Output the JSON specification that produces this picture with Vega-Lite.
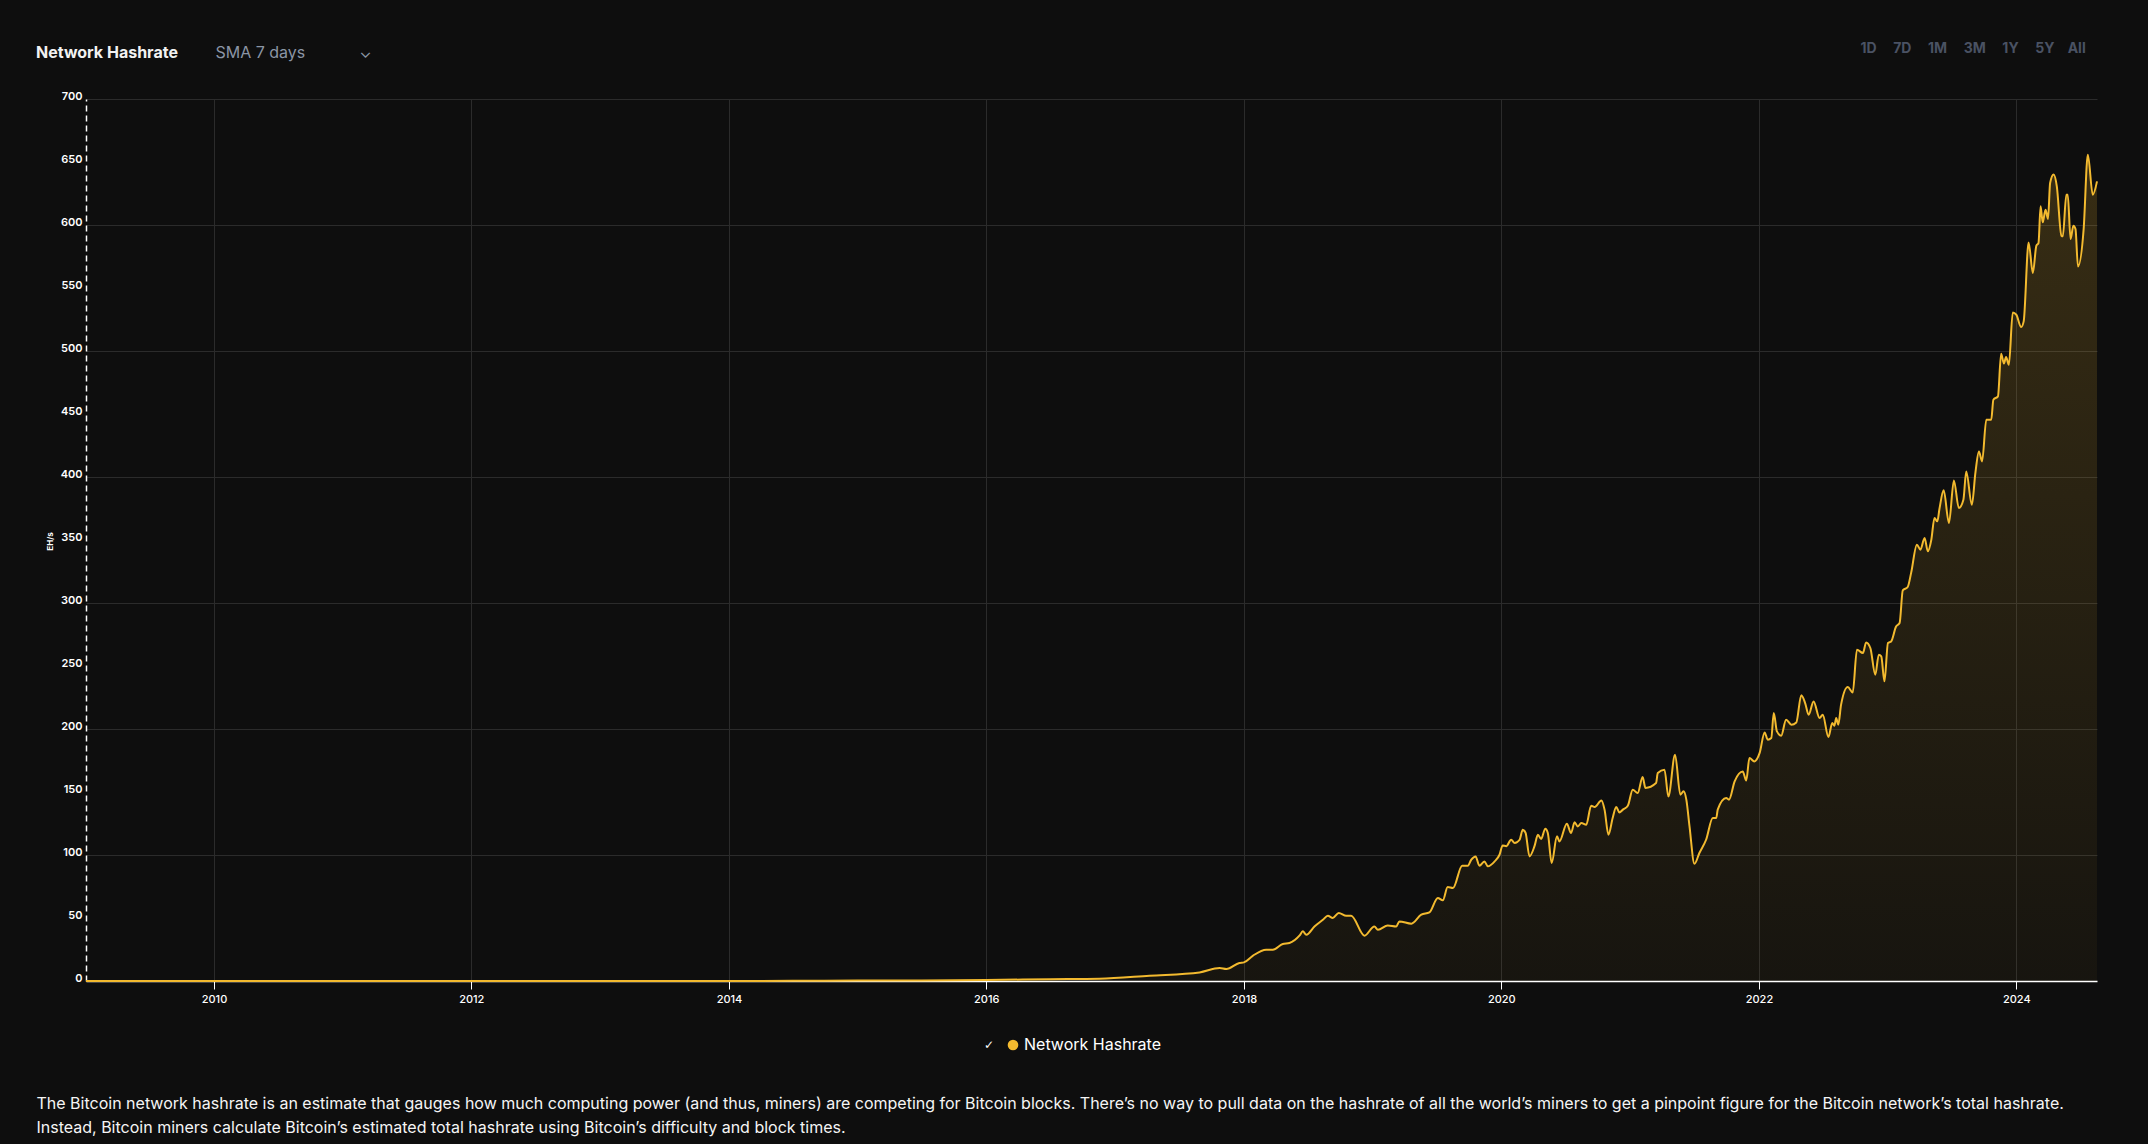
{
  "$schema": "https://vega.github.io/schema/vega-lite/v6.json",
  "width": 2011,
  "height": 882,
  "autosize": {"type": "none"},
  "padding": {"left": 86, "top": 99, "right": 51, "bottom": 163},
  "background": "#0e0e0e",
  "config": {"view": {"stroke": null}, "font": "Inter"},
  "title": {"text": "Network Hashrate", "anchor": "start", "frame": "group", "dx": -50, "dy": 20, "offset": 0, "fontSize": 16, "fontWeight": 700, "color": "#f2f2f2", "font": "Inter"},
  "data": {"values": [
    {"date": "2009-01-03", "hashrate": 0},
    {"date": "2011-06-01", "hashrate": 0.00001},
    {"date": "2013-01-01", "hashrate": 0.00002},
    {"date": "2013-07-01", "hashrate": 0.0003},
    {"date": "2014-01-01", "hashrate": 0.01},
    {"date": "2014-07-01", "hashrate": 0.12},
    {"date": "2015-01-01", "hashrate": 0.3},
    {"date": "2015-07-01", "hashrate": 0.4},
    {"date": "2016-01-01", "hashrate": 0.8},
    {"date": "2016-07-01", "hashrate": 1.4},
    {"date": "2016-11-17", "hashrate": 1.8},
    {"date": "2017-04-08", "hashrate": 4.2},
    {"date": "2017-08-28", "hashrate": 6.8},
    {"date": "2017-10-24", "hashrate": 10.3},
    {"date": "2017-11-12", "hashrate": 9.5},
    {"date": "2017-12-19", "hashrate": 14.3},
    {"date": "2018-01-01", "hashrate": 14.8},
    {"date": "2018-01-26", "hashrate": 20},
    {"date": "2018-03-05", "hashrate": 24.8},
    {"date": "2018-03-24", "hashrate": 24.8},
    {"date": "2018-04-21", "hashrate": 29.4},
    {"date": "2018-05-10", "hashrate": 30.2},
    {"date": "2018-06-08", "hashrate": 36.2},
    {"date": "2018-06-17", "hashrate": 39.4},
    {"date": "2018-06-27", "hashrate": 36.7},
    {"date": "2018-07-20", "hashrate": 43.3},
    {"date": "2018-08-13", "hashrate": 48.6},
    {"date": "2018-08-27", "hashrate": 51.8},
    {"date": "2018-09-10", "hashrate": 50},
    {"date": "2018-09-27", "hashrate": 54},
    {"date": "2018-10-18", "hashrate": 51.8},
    {"date": "2018-11-01", "hashrate": 51.8},
    {"date": "2018-12-09", "hashrate": 36},
    {"date": "2019-01-06", "hashrate": 43.3},
    {"date": "2019-01-16", "hashrate": 40.7},
    {"date": "2019-02-13", "hashrate": 44.1},
    {"date": "2019-03-09", "hashrate": 43.3},
    {"date": "2019-03-18", "hashrate": 47.3},
    {"date": "2019-04-21", "hashrate": 45.5},
    {"date": "2019-05-19", "hashrate": 52.6},
    {"date": "2019-06-11", "hashrate": 54.4},
    {"date": "2019-07-05", "hashrate": 65.9},
    {"date": "2019-07-19", "hashrate": 64},
    {"date": "2019-08-02", "hashrate": 74.6},
    {"date": "2019-08-17", "hashrate": 73.8},
    {"date": "2019-09-12", "hashrate": 91.5},
    {"date": "2019-09-28", "hashrate": 91.5},
    {"date": "2019-10-08", "hashrate": 96.3},
    {"date": "2019-10-20", "hashrate": 98.9},
    {"date": "2019-10-31", "hashrate": 91.5},
    {"date": "2019-11-14", "hashrate": 94.9},
    {"date": "2019-11-24", "hashrate": 91},
    {"date": "2019-12-13", "hashrate": 94.9},
    {"date": "2019-12-27", "hashrate": 100.2},
    {"date": "2020-01-05", "hashrate": 107.6},
    {"date": "2020-01-15", "hashrate": 107},
    {"date": "2020-01-29", "hashrate": 112.1},
    {"date": "2020-02-08", "hashrate": 109.5},
    {"date": "2020-02-22", "hashrate": 112.1},
    {"date": "2020-03-02", "hashrate": 120.1},
    {"date": "2020-03-10", "hashrate": 117.5},
    {"date": "2020-03-21", "hashrate": 98.9},
    {"date": "2020-04-04", "hashrate": 106.8},
    {"date": "2020-04-14", "hashrate": 116.1},
    {"date": "2020-04-23", "hashrate": 112.7},
    {"date": "2020-05-05", "hashrate": 120.9},
    {"date": "2020-05-12", "hashrate": 117.5},
    {"date": "2020-05-23", "hashrate": 93.7},
    {"date": "2020-06-07", "hashrate": 114.8},
    {"date": "2020-06-14", "hashrate": 110.8},
    {"date": "2020-07-05", "hashrate": 124.8},
    {"date": "2020-07-17", "hashrate": 117.5},
    {"date": "2020-07-27", "hashrate": 125.9},
    {"date": "2020-08-05", "hashrate": 122.7},
    {"date": "2020-08-15", "hashrate": 125.4},
    {"date": "2020-08-29", "hashrate": 124},
    {"date": "2020-09-12", "hashrate": 139.1},
    {"date": "2020-09-22", "hashrate": 138.1},
    {"date": "2020-10-11", "hashrate": 143.3},
    {"date": "2020-10-20", "hashrate": 136},
    {"date": "2020-10-31", "hashrate": 116.1},
    {"date": "2020-11-12", "hashrate": 129.4},
    {"date": "2020-11-22", "hashrate": 138.1},
    {"date": "2020-12-01", "hashrate": 133.8},
    {"date": "2020-12-11", "hashrate": 136},
    {"date": "2020-12-25", "hashrate": 139.1},
    {"date": "2021-01-08", "hashrate": 151.8},
    {"date": "2021-01-22", "hashrate": 149.2},
    {"date": "2021-02-05", "hashrate": 161.9},
    {"date": "2021-02-13", "hashrate": 153.2},
    {"date": "2021-03-15", "hashrate": 157.1},
    {"date": "2021-03-20", "hashrate": 165.1},
    {"date": "2021-04-08", "hashrate": 167.7},
    {"date": "2021-04-19", "hashrate": 146.5},
    {"date": "2021-05-08", "hashrate": 179.6},
    {"date": "2021-05-23", "hashrate": 147.9},
    {"date": "2021-06-01", "hashrate": 150.5},
    {"date": "2021-06-09", "hashrate": 143.9},
    {"date": "2021-06-18", "hashrate": 122.7},
    {"date": "2021-07-02", "hashrate": 93.1},
    {"date": "2021-07-16", "hashrate": 101.6},
    {"date": "2021-08-04", "hashrate": 112.1},
    {"date": "2021-08-23", "hashrate": 129.4},
    {"date": "2021-09-02", "hashrate": 129.4},
    {"date": "2021-09-06", "hashrate": 136},
    {"date": "2021-09-30", "hashrate": 145.2},
    {"date": "2021-10-08", "hashrate": 143.9},
    {"date": "2021-10-24", "hashrate": 158.4},
    {"date": "2021-11-16", "hashrate": 166.3},
    {"date": "2021-11-26", "hashrate": 159.2},
    {"date": "2021-12-05", "hashrate": 177},
    {"date": "2021-12-19", "hashrate": 174.3},
    {"date": "2022-01-03", "hashrate": 181},
    {"date": "2022-01-17", "hashrate": 197.3},
    {"date": "2022-01-26", "hashrate": 191.5},
    {"date": "2022-02-05", "hashrate": 192.9},
    {"date": "2022-02-12", "hashrate": 212.7},
    {"date": "2022-02-21", "hashrate": 198.1},
    {"date": "2022-03-05", "hashrate": 194.7},
    {"date": "2022-03-19", "hashrate": 207.4},
    {"date": "2022-04-03", "hashrate": 203.4},
    {"date": "2022-04-17", "hashrate": 205.2},
    {"date": "2022-05-01", "hashrate": 226.7},
    {"date": "2022-05-12", "hashrate": 220.6},
    {"date": "2022-05-22", "hashrate": 211.3},
    {"date": "2022-06-05", "hashrate": 221.9},
    {"date": "2022-06-22", "hashrate": 208.7},
    {"date": "2022-07-01", "hashrate": 211.3},
    {"date": "2022-07-17", "hashrate": 193.7},
    {"date": "2022-07-28", "hashrate": 204.8},
    {"date": "2022-08-03", "hashrate": 202.6},
    {"date": "2022-08-08", "hashrate": 208.7},
    {"date": "2022-08-14", "hashrate": 203.4},
    {"date": "2022-08-22", "hashrate": 219.3},
    {"date": "2022-09-10", "hashrate": 233.3},
    {"date": "2022-09-24", "hashrate": 229},
    {"date": "2022-10-06", "hashrate": 262.9},
    {"date": "2022-10-23", "hashrate": 260.3},
    {"date": "2022-11-01", "hashrate": 268.7},
    {"date": "2022-11-13", "hashrate": 264.3},
    {"date": "2022-11-27", "hashrate": 243.1},
    {"date": "2022-12-07", "hashrate": 259},
    {"date": "2022-12-14", "hashrate": 257.6},
    {"date": "2022-12-23", "hashrate": 237.8},
    {"date": "2023-01-02", "hashrate": 268.3},
    {"date": "2023-01-11", "hashrate": 269.5},
    {"date": "2023-01-25", "hashrate": 281.4},
    {"date": "2023-02-04", "hashrate": 284.1},
    {"date": "2023-02-13", "hashrate": 310},
    {"date": "2023-02-27", "hashrate": 312.7},
    {"date": "2023-03-09", "hashrate": 324.3},
    {"date": "2023-03-25", "hashrate": 346.3},
    {"date": "2023-04-04", "hashrate": 342.3},
    {"date": "2023-04-16", "hashrate": 351.6},
    {"date": "2023-04-25", "hashrate": 341},
    {"date": "2023-05-05", "hashrate": 350.2},
    {"date": "2023-05-14", "hashrate": 367.5},
    {"date": "2023-05-22", "hashrate": 364.8},
    {"date": "2023-05-28", "hashrate": 374.6},
    {"date": "2023-06-09", "hashrate": 389.4},
    {"date": "2023-06-24", "hashrate": 363.5},
    {"date": "2023-07-08", "hashrate": 397.3},
    {"date": "2023-07-22", "hashrate": 375.4},
    {"date": "2023-08-04", "hashrate": 382},
    {"date": "2023-08-12", "hashrate": 404.4},
    {"date": "2023-08-28", "hashrate": 378},
    {"date": "2023-09-07", "hashrate": 403.2},
    {"date": "2023-09-17", "hashrate": 420.3},
    {"date": "2023-09-26", "hashrate": 412.4},
    {"date": "2023-10-08", "hashrate": 445.5},
    {"date": "2023-10-22", "hashrate": 445.5},
    {"date": "2023-10-28", "hashrate": 461.3},
    {"date": "2023-11-10", "hashrate": 464},
    {"date": "2023-11-19", "hashrate": 497.9},
    {"date": "2023-11-27", "hashrate": 490},
    {"date": "2023-12-03", "hashrate": 495.2},
    {"date": "2023-12-11", "hashrate": 489.1},
    {"date": "2023-12-22", "hashrate": 530.6},
    {"date": "2024-01-01", "hashrate": 528.8},
    {"date": "2024-01-15", "hashrate": 519},
    {"date": "2024-01-22", "hashrate": 523.5},
    {"date": "2024-02-05", "hashrate": 586.2},
    {"date": "2024-02-17", "hashrate": 561.9},
    {"date": "2024-02-27", "hashrate": 583.6},
    {"date": "2024-03-04", "hashrate": 585.7},
    {"date": "2024-03-10", "hashrate": 614.8},
    {"date": "2024-03-16", "hashrate": 602.1},
    {"date": "2024-03-24", "hashrate": 612.1},
    {"date": "2024-03-31", "hashrate": 604.8},
    {"date": "2024-04-06", "hashrate": 633.3},
    {"date": "2024-04-16", "hashrate": 640},
    {"date": "2024-04-25", "hashrate": 630.6},
    {"date": "2024-05-08", "hashrate": 591.5},
    {"date": "2024-05-12", "hashrate": 591},
    {"date": "2024-05-22", "hashrate": 624},
    {"date": "2024-05-26", "hashrate": 624},
    {"date": "2024-06-03", "hashrate": 588.9},
    {"date": "2024-06-11", "hashrate": 599.4},
    {"date": "2024-06-17", "hashrate": 596.8},
    {"date": "2024-06-24", "hashrate": 567.1},
    {"date": "2024-07-10", "hashrate": 596.3},
    {"date": "2024-07-22", "hashrate": 655.8},
    {"date": "2024-08-05", "hashrate": 624},
    {"date": "2024-08-17", "hashrate": 634.6}
  ]},
  "resolve": {"axis": {"x": "independent", "y": "independent"}},
  "layer": [
    {
      "mark": {"type": "area", "interpolate": "monotone", "color": {"gradient": "linear", "x1": 0, "y1": 0, "x2": 0, "y2": 1, "stops": [{"offset": 0, "color": "rgba(243,186,47,0.18)"}, {"offset": 1, "color": "rgba(243,186,47,0.04)"}]}},
      "encoding": {
        "x": {"field": "date", "type": "temporal",
          "scale": {"type": "utc", "domain": [{"year": 2009, "month": 1, "date": 3, "utc": true}, {"year": 2024, "month": 8, "date": 17, "utc": true}]},
          "axis": {"orient": "bottom", "format": "%Y", "tickCount": {"interval": "year", "step": 2},
            "labelColor": "#ffffff", "labelFontSize": 11, "labelFontWeight": 500, "labelFont": "Inter", "labelPadding": 4,
            "tickColor": "#ffffff", "tickSize": 8, "tickWidth": 1,
            "domainColor": "#ffffff", "domainWidth": 1.5,
            "grid": true, "gridColor": "#2b2b2b", "gridWidth": 1,
            "title": ["The Bitcoin network hashrate is an estimate that gauges how much computing power (and thus, miners) are competing for Bitcoin blocks. There’s no way to pull data on the hashrate of all the world’s miners to get a pinpoint figure for the Bitcoin network’s total hashrate.", "Instead, Bitcoin miners calculate Bitcoin’s estimated total hashrate using Bitcoin’s difficulty and block times."],
            "titleX": -50, "titleY": 114, "titleAlign": "left", "titleAnchor": null, "titleBaseline": "top", "titleFont": "Inter", "titleFontSize": 16, "titleFontWeight": 400, "titleColor": "#f5f5f5", "titleLineHeight": 24}},
        "y": {"field": "hashrate", "type": "quantitative",
          "scale": {"domain": [0, 700], "nice": false, "zero": true},
          "axis": {"orient": "left", "values": [0, 50, 100, 150, 200, 250, 300, 350, 400, 450, 500, 550, 600, 650, 700],
            "labelColor": "#ffffff", "labelFontSize": 11, "labelFontWeight": 600, "labelFont": "Inter", "labelPadding": 4, "labelBaseline": "alphabetic",
            "ticks": false, "grid": false,
            "domainColor": "#ffffff", "domainWidth": 1.5, "domainDash": [6, 4],
            "title": "EH/s", "titleFontSize": 8, "titleFontWeight": 700, "titleColor": "#ffffff", "titleFont": "Inter", "titleX": -36, "titleY": 442, "titleBaseline": "middle", "titleAngle": 270}}
      }
    },
    {
      "mark": {"type": "line", "interpolate": "monotone", "strokeWidth": 2},
      "encoding": {
        "x": {"field": "date", "type": "temporal",
          "axis": {"orient": "top", "labels": false, "ticks": false, "domain": false, "grid": false,
            "title": "SMA 7 days\u00a0\u00a0\u00a0\u00a0\u00a0\u00a0\u00a0\u00a0\u00a0\u00a0\u00a0\u00a0\u2304", "titleX": 129, "titleY": -47, "titleAlign": "left", "titleAnchor": null, "titleBaseline": "middle", "titleFont": "Inter", "titleFontSize": 16, "titleFontWeight": 400, "titleColor": "#8b95a5"}},
        "y": {"field": "hashrate", "type": "quantitative",
          "axis": {"orient": "right", "values": [100, 200, 300, 400, 500, 600, 700], "labels": false, "ticks": false, "domain": false,
            "grid": true, "gridColor": "#2b2b2b", "gridWidth": 1,
            "title": "1D\u00a0\u00a0\u00a0\u00a0\u00a07D\u00a0\u00a0\u00a0\u00a0\u00a01M\u00a0\u00a0\u00a0\u00a0\u00a03M\u00a0\u00a0\u00a0\u00a0\u00a01Y\u00a0\u00a0\u00a0\u00a0\u00a05Y\u00a0\u00a0\u00a0\u00a0All", "titleAngle": 0, "titleX": -237, "titleY": -51, "titleAlign": "left", "titleBaseline": "middle", "titleFont": "Inter", "titleFontSize": 14, "titleFontWeight": 700, "titleColor": "#4a5263"}},
        "color": {"datum": "Network Hashrate", "type": "nominal",
          "scale": {"range": ["#F3BA2F"]},
          "legend": {"orient": "none", "legendX": 898, "legendY": 938, "title": "\u2713", "titleOrient": "left", "titleColor": "#ffffff", "titleFontSize": 12, "titlePadding": 10, "titleFont": "DejaVu Sans",
            "symbolType": "circle", "symbolSize": 113, "labelColor": "#ffffff", "labelFontSize": 16, "labelFont": "Inter", "labelOffset": 3,
            "encode": {"symbols": {"update": {"fill": {"value": "#F3BA2F"}, "stroke": {"value": "#F3BA2F"}, "strokeWidth": {"value": 0}}}}}}
      }
    }
  ]
}
